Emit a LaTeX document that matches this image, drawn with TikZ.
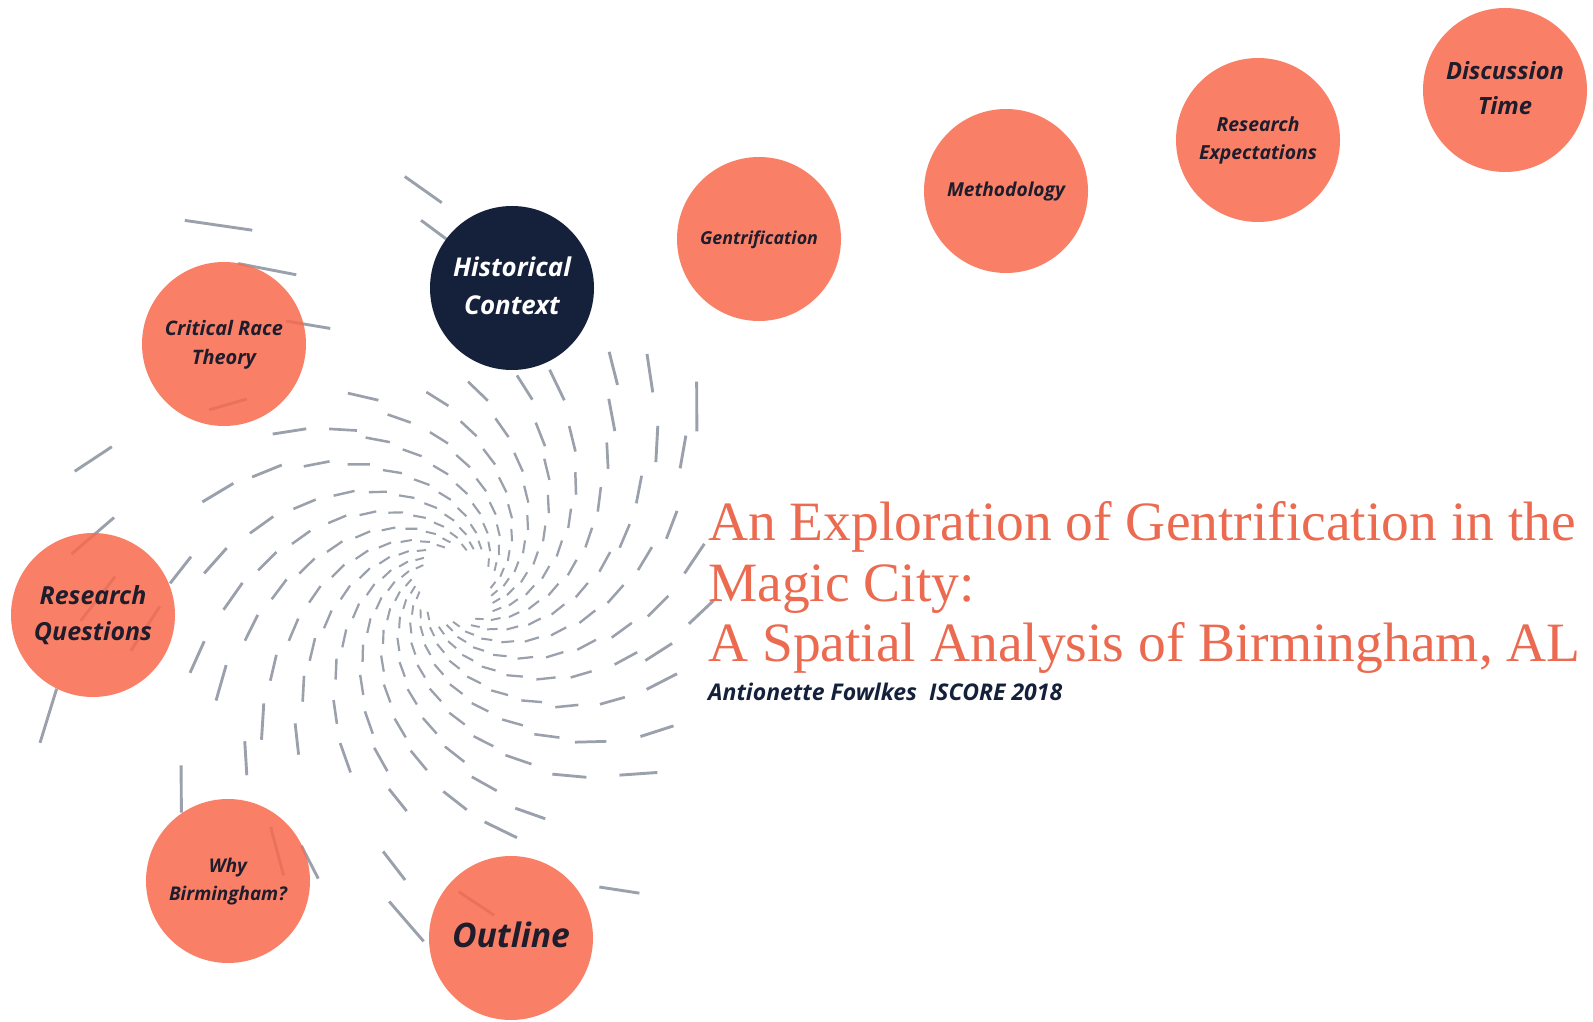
\documentclass[tikz,border=0pt]{standalone}
\usepackage{fontspec}
\usepackage{graphicx}
\newfontfamily\labelfont{Open Sans}
\newfontfamily\titlefont{Liberation Serif}
\definecolor{salmon}{HTML}{F86A4D}
\definecolor{titlered}{HTML}{EB6A50}
\definecolor{navy}{HTML}{15213A}
\definecolor{labelink}{HTML}{1F1C2C}
\definecolor{dashgray}{HTML}{9AA1AC}

% bold italic label, scaled so that its widest line is 118pt wide
\newcommand{\circlabel}[1]{\resizebox{118pt}{!}{\labelfont\bfseries\itshape\fontsize{20}{29}\selectfont\begin{tabular}{@{}c@{}}#1\end{tabular}}}

\begin{document}
\begin{tikzpicture}[x=1pt,y=1pt,
  topic/.style={circle, minimum size=164pt, inner sep=0pt, fill=salmon,
    fill opacity=0.85, text opacity=1, text=labelink},
  current/.style={topic, fill=navy, fill opacity=1, text=white},
  spiraldash/.style={draw=dashgray},
  titleline/.style={anchor=base west, inner sep=0pt, text=titlered,
    font=\titlefont\fontsize{55.5}{60}\selectfont}]
\useasboundingbox (0,0) rectangle (1593,1021);
\fill[white] (0,0) rectangle (1593,1021);

% logarithmic spiral of short dashes, scattering and thinning out towards the rim
\pgfmathsetseed{37}
\begin{scope}[shift={(455,436)}]
\foreach \k in {0,...,23}{
  \pgfmathsetmacro{\ph}{0.618*\k-floor(0.618*\k)}
  \foreach \j in {0,...,15}{
    \pgfmathsetmacro{\ra}{71.3*exp(0.141*(\j+\ph))-33.3}
    \pgfmathsetmacro{\sc}{max(0,(\ra-120)/300)}
    \pgfmathsetmacro{\rr}{\ra*(1+0.14*\sc*(rnd-0.5))}
    \pgfmathsetmacro{\th}{\k*15+60.2*ln(\rr/38)+16*\sc*(rnd-0.5)}
    \pgfmathsetmacro{\al}{\th+52+12*\sc*(rnd-0.5)}
    \pgfmathsetmacro{\alb}{\al+180}
    \pgfmathsetmacro{\hl}{(3.5+0.12*\rr)*(1+0.6*\sc*(rnd-0.3))/2}
    \pgfmathsetmacro{\lw}{min(1.7+0.005*\rr,2.9)}
    \pgfmathsetmacro{\u}{rnd}
    \pgfmathtruncatemacro{\keep}{((\rr<450)&&(\rr*cos(\th)<258)&&(\u<max(0.28,1-(\rr-180)/240)))?1:0}
    \ifnum\keep=1
      \draw[spiraldash,line width=\lw pt,shift={(\th:\rr)}] (\alb:\hl) -- (\al:\hl);
    \fi
  }
}
\end{scope}

% topic circles
\node[topic] (discussion) at (1505,931) {\circlabel{Discussion\\Time}};
\node[topic] (expectations) at (1258,881) {\circlabel{Research\\Expectations}};
\node[topic] (methodology) at (1006,830) {\circlabel{Methodology}};
\node[topic] (gentrification) at (759,782) {\circlabel{Gentrification}};
\node[current] (history) at (512,733) {\circlabel{Historical\\Context}};
\node[topic] (crt) at (224,677) {\circlabel{Critical Race\\Theory}};
\node[topic] (questions) at (93,406) {\circlabel{Research\\Questions}};
\node[topic] (birmingham) at (228,140) {\circlabel{Why\\Birmingham?}};
\node[topic] (outline) at (511,83) {\circlabel{Outline}};

% title block
\node[titleline] (title1) at (708,480) {An Exploration of Gentrification in the};
\node[titleline] (title2) at (708,419) {Magic City:};
\node[titleline] (title3) at (708,359) {A Spatial Analysis of Birmingham, AL};
\node[anchor=base west, inner sep=0pt, text=navy] (author) at (708,320)
  {\resizebox{354pt}{!}{\labelfont\bfseries\itshape Antionette Fowlkes\ \ ISCORE 2018}};
\end{tikzpicture}
\end{document}
